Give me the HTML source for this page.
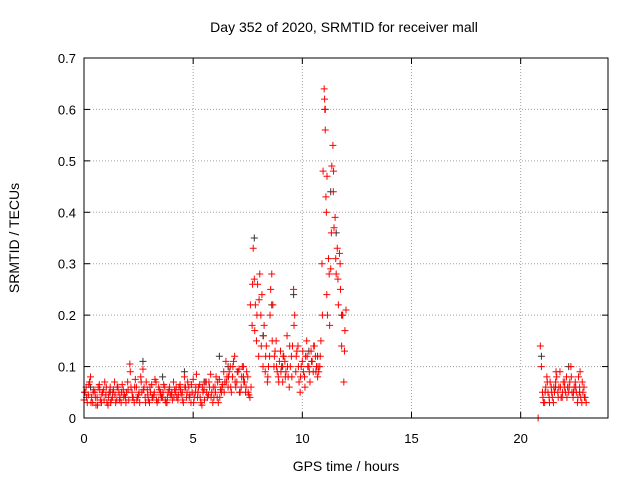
<!DOCTYPE html>
<html><head><meta charset="utf-8"><style>
body{margin:0;background:#fff;}
svg{display:block;font-family:"Liberation Sans",sans-serif;}
</style></head><body>
<svg id="chart" width="640" height="480">
<rect width="640" height="480" fill="#fff"/>
<text x="344" y="32" font-size="14" text-anchor="middle">Day 352 of 2020, SRMTID for receiver mall</text>
<text x="346" y="471" font-size="14" text-anchor="middle">GPS time / hours</text>
<text transform="translate(19,238) rotate(-90)" font-size="14" text-anchor="middle">SRMTID / TECUs</text>
<g id="grid"></g><g id="ticks"></g><g id="marks"></g>
<rect x="84" y="58" width="524" height="360" fill="none" stroke="#000"/>
</svg>
<script>
const xTicks=[0,5,10,15,20];
const yTicks=[0,0.1,0.2,0.3,0.4,0.5,0.6,0.7];
const yTickLabels=["0","0.1","0.2","0.3","0.4","0.5","0.6","0.7"];
const redTimes=[0,0.05,0.1,0.15,0.2,0.25,0.3,0.35,0.4,0.45,0.5,0.55,0.6,0.65,0.7,0.75,0.8,0.85,0.9,0.95,1,1.05,1.1,1.15,1.2,1.25,1.3,1.35,1.4,1.45,1.5,1.55,1.6,1.65,1.7,1.75,1.8,1.85,1.9,1.95,2,2.05,2.1,2.15,2.2,2.25,2.3,2.35,2.4,2.45,2.5,2.55,2.6,2.65,2.7,2.75,2.8,2.85,2.9,2.95,3,3.05,3.1,3.15,3.2,3.25,3.3,3.35,3.4,3.45,3.5,3.55,3.6,3.65,3.7,3.75,3.8,3.85,3.9,3.95,4,4.05,4.1,4.15,4.2,4.25,4.3,4.35,4.4,4.45,4.5,4.55,4.6,4.65,4.7,4.75,4.8,4.85,4.9,4.95,5,5.05,5.1,5.15,5.2,5.25,5.3,5.35,5.4,5.45,5.5,5.55,5.6,5.65,5.7,5.75,5.8,5.85,5.9,5.95,6,6.05,6.1,6.15,6.2,6.25,6.3,6.35,6.4,6.45,6.5,6.55,6.6,6.65,6.7,6.75,6.8,6.85,6.9,6.95,7,7.05,7.1,7.15,7.2,7.25,7.3,7.35,7.4,7.45,7.5,7.55,7.6,7.65,7.7,7.75,7.8,7.85,7.9,7.95,8,8.05,8.1,8.15,8.2,8.25,8.3,8.35,8.4,8.45,8.5,8.55,8.6,8.65,8.7,8.75,8.8,8.85,8.9,8.95,9,9.05,9.1,9.15,9.2,9.25,9.3,9.35,9.4,9.45,9.5,9.55,9.6,9.65,9.7,9.75,9.8,9.85,9.9,9.95,10,10.05,10.1,10.15,10.2,10.25,10.3,10.35,10.4,10.45,10.5,10.55,10.6,10.65,10.7,10.75,10.8,10.85,10.9,10.95,11,11.02,11.05,11.08,11.1,11.12,11.15,11.2,11.25,11.3,11.35,11.4,11.42,11.45,11.5,11.55,11.6,11.65,11.7,11.75,11.8,11.85,11.9,11.95,12,20.8,20.9,20.95,21,21.05,21.1,21.15,21.2,21.25,21.3,21.35,21.4,21.45,21.5,21.55,21.6,21.65,21.7,21.75,21.8,21.85,21.9,21.95,22,22.05,22.1,22.15,22.2,22.25,22.3,22.35,22.4,22.45,22.5,22.55,22.6,22.65,22.7,22.75,22.8,22.85,22.9,22.95,23];
const redValues=[0.035,0.05,0.06,0.03,0.045,0.07,0.08,0.04,0.03,0.055,0.05,0.025,0.04,0.06,0.065,0.035,0.03,0.05,0.055,0.07,0.045,0.03,0.025,0.05,0.06,0.035,0.04,0.055,0.07,0.03,0.035,0.06,0.05,0.04,0.03,0.065,0.055,0.045,0.04,0.05,0.07,0.035,0.105,0.06,0.05,0.04,0.03,0.075,0.06,0.04,0.045,0.03,0.08,0.05,0.095,0.06,0.04,0.07,0.055,0.035,0.03,0.05,0.065,0.04,0.045,0.075,0.07,0.03,0.035,0.055,0.05,0.04,0.04,0.065,0.06,0.03,0.03,0.05,0.055,0.045,0.045,0.035,0.07,0.055,0.05,0.04,0.035,0.06,0.065,0.045,0.05,0.03,0.08,0.06,0.04,0.07,0.06,0.045,0.03,0.05,0.075,0.04,0.05,0.085,0.04,0.06,0.065,0.03,0.025,0.05,0.055,0.07,0.07,0.04,0.045,0.06,0.085,0.05,0.03,0.04,0.06,0.08,0.04,0.03,0.075,0.055,0.05,0.065,0.09,0.07,0.11,0.08,0.06,0.09,0.1,0.05,0.08,0.11,0.12,0.06,0.07,0.09,0.095,0.05,0.06,0.1,0.1,0.07,0.05,0.09,0.08,0.045,0.04,0.06,0.18,0.33,0.27,0.22,0.15,0.26,0.12,0.28,0.2,0.24,0.1,0.18,0.09,0.14,0.07,0.1,0.12,0.25,0.28,0.22,0.1,0.13,0.15,0.09,0.08,0.11,0.13,0.1,0.07,0.12,0.11,0.09,0.16,0.08,0.06,0.1,0.12,0.14,0.25,0.2,0.09,0.13,0.14,0.07,0.05,0.1,0.11,0.09,0.08,0.12,0.15,0.1,0.1,0.07,0.13,0.11,0.09,0.14,0.12,0.1,0.08,0.09,0.1,0.15,0.3,0.48,0.64,0.62,0.56,0.43,0.4,0.24,0.2,0.31,0.18,0.29,0.49,0.53,0.44,0.37,0.39,0.28,0.33,0.22,0.32,0.25,0.14,0.2,0.07,0.17,0.21,0.0,0.14,0.1,0.05,0.03,0.03,0.06,0.08,0.05,0.04,0.07,0.06,0.04,0.03,0.05,0.07,0.08,0.05,0.06,0.09,0.04,0.04,0.07,0.06,0.05,0.08,0.06,0.05,0.07,0.1,0.05,0.04,0.06,0.07,0.05,0.03,0.08,0.06,0.04,0.03,0.05,0.06,0.04,0.03];
const redTimes2=[0.02,0.12,0.22,0.32,0.42,0.52,0.62,0.72,0.82,0.92,1.02,1.12,1.22,1.32,1.42,1.52,1.62,1.72,1.82,1.92,2.02,2.12,2.22,2.32,2.42,2.52,2.62,2.72,2.82,2.92,3.02,3.12,3.22,3.32,3.42,3.52,3.62,3.72,3.82,3.92,4.02,4.12,4.22,4.32,4.42,4.52,4.62,4.72,4.82,4.92,5.02,5.12,5.22,5.32,5.42,5.52,5.62,5.72,5.82,5.92,6.02,6.12,6.22,6.32,6.42,6.52,6.62,6.72,6.82,6.92,7.02,7.12,7.22,7.32,7.42,7.52,7.62,7.72,7.82,7.92,8.02,8.12,8.22,8.32,8.42,8.52,8.62,8.72,8.82,8.92,9.02,9.12,9.22,9.32,9.42,9.52,9.62,9.72,9.82,9.92,10.02,10.12,10.22,10.32,10.42,10.52,10.62,10.72,10.82,10.92,11.03,11.13,11.23,11.33,11.43,11.53,11.63,11.73,11.83,11.93,21.02,21.12,21.22,21.32,21.42,21.52,21.62,21.72,21.82,21.92,22.02,22.12,22.22,22.32,22.42,22.52,22.62,22.72,22.82,22.92];
const redValues2=[0.05,0.04,0.065,0.03,0.05,0.04,0.025,0.055,0.045,0.035,0.06,0.04,0.03,0.05,0.045,0.06,0.035,0.05,0.04,0.03,0.055,0.09,0.04,0.06,0.035,0.05,0.07,0.055,0.03,0.045,0.06,0.04,0.05,0.035,0.06,0.045,0.05,0.035,0.04,0.06,0.05,0.04,0.06,0.045,0.055,0.035,0.06,0.05,0.04,0.065,0.03,0.06,0.05,0.04,0.06,0.035,0.05,0.07,0.04,0.06,0.05,0.07,0.04,0.06,0.05,0.07,0.08,0.06,0.1,0.07,0.09,0.05,0.08,0.07,0.06,0.05,0.22,0.26,0.17,0.2,0.23,0.14,0.16,0.12,0.08,0.2,0.15,0.12,0.1,0.07,0.09,0.12,0.08,0.1,0.14,0.08,0.18,0.12,0.1,0.08,0.13,0.06,0.12,0.09,0.11,0.14,0.09,0.1,0.12,0.2,0.6,0.47,0.28,0.36,0.48,0.31,0.27,0.3,0.2,0.13,0.04,0.05,0.07,0.03,0.05,0.06,0.09,0.04,0.06,0.05,0.07,0.04,0.06,0.08,0.05,0.06,0.04,0.09,0.07,0.04];
const blackTimes=[0.3,1.2,2.7,3.6,4.6,5.5,6.2,6.6,7.3,7.8,8.2,8.6,9.1,9.6,10.3,10.7,11.05,11.3,11.55,11.8,20.95,21.6,22.2,22.7];
const blackValues=[0.06,0.05,0.11,0.08,0.09,0.07,0.12,0.1,0.08,0.35,0.16,0.22,0.1,0.24,0.13,0.12,0.6,0.44,0.36,0.2,0.12,0.06,0.1,0.05];
const NS="http://www.w3.org/2000/svg";
const X0=84,X1=608,Y0=418,Y1=58,XMAX=24,YMAX=0.7;
function xs(v){return X0+v/XMAX*(X1-X0);}
function ys(v){return Y0-v/YMAX*(Y0-Y1);}
function mk(tag,attrs,parent){const e=document.createElementNS(NS,tag);for(const k in attrs)e.setAttribute(k,attrs[k]);parent.appendChild(e);return e;}
const grid=document.getElementById('grid'),ticks=document.getElementById('ticks'),marks=document.getElementById('marks');
xTicks.forEach(t=>{
  const x=xs(t);
  if(t>0){const g=mk('line',{x1:x,y1:Y0,x2:x,y2:Y1,stroke:'#a0a0a0','stroke-dasharray':'1,2'},grid);
  
  }
  mk('line',{x1:x,y1:Y0,x2:x,y2:Y0-6,stroke:'#000'},ticks);
  mk('line',{x1:x,y1:Y1,x2:x,y2:Y1+6,stroke:'#000'},ticks);
  const l=mk('text',{x:x,y:443,'font-size':13,'text-anchor':'middle'},ticks);l.textContent=t;
  
  
});
yTicks.forEach((t,i)=>{
  const y=ys(t);
  if(i>0&&i<yTicks.length-1){const g=mk('line',{x1:X0,y1:y,x2:X1,y2:y,stroke:'#a0a0a0','stroke-dasharray':'1,2'},grid);
  
  }
  mk('line',{x1:X0,y1:y,x2:X0+6,y2:y,stroke:'#000'},ticks);
  mk('line',{x1:X1,y1:y,x2:X1-6,y2:y,stroke:'#000'},ticks);
  const l=mk('text',{x:76,y:y+5,'font-size':13,'text-anchor':'end'},ticks);l.textContent=yTickLabels[i];
  
  
});
function plus(t,v,color,name){
  const x=xs(t),y=ys(v);
  const p=mk('path',{d:`M${x-3.5},${y}H${x+3.5}M${x},${y-3.5}V${y+3.5}`,stroke:color,'stroke-width':1,fill:'none'},marks);
  
  
}
blackTimes.forEach((t,i)=>plus(t,blackValues[i],'#333','point-black'));
redTimes.forEach((t,i)=>plus(t,redValues[i],'#f00','point-red'));
redTimes2.forEach((t,i)=>plus(t,redValues2[i],'#f00','point-red'));
</script>
</body></html>
